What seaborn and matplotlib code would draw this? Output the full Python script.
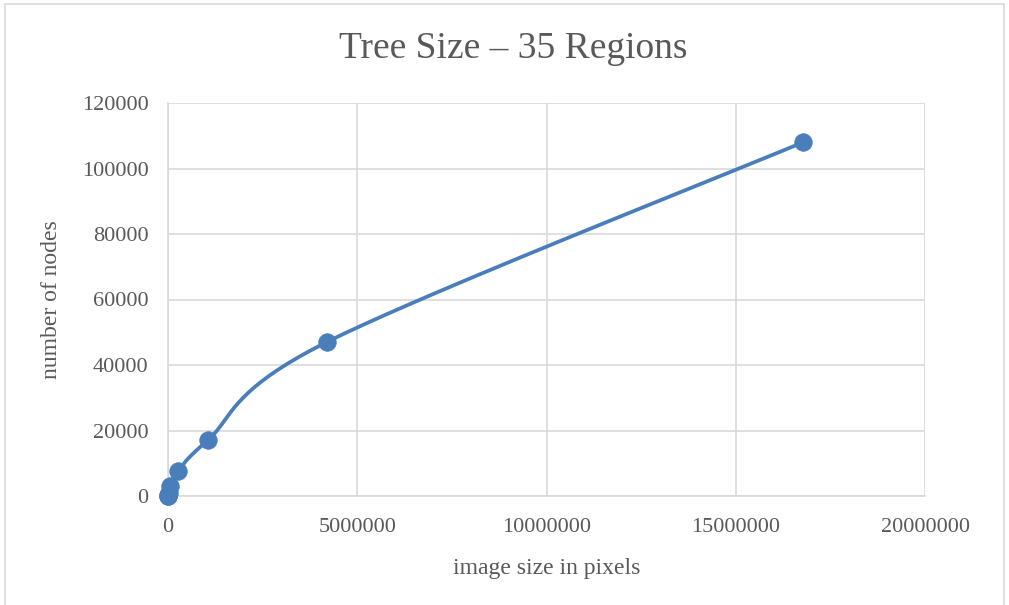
import numpy as np
import pandas as pd
import matplotlib
matplotlib.use("Agg")
import matplotlib.pyplot as plt
import seaborn as sns
from matplotlib.patches import Rectangle

image_pixels = [256, 1024, 4096, 16384, 65536, 262144, 1048576, 4194304, 16777216]
node_counts = [60, 120, 350, 1000, 3000, 7500, 17000, 47000, 108000]
x_ticks = [0, 5000000, 10000000, 15000000, 20000000]
y_ticks = [0, 20000, 40000, 60000, 80000, 100000, 120000]

color = "#4a7ebb"
grey_text = "#595959"
grid_c = "#d9d9d9"

sns.set_theme(style="white")
plt.rcParams['font.family'] = ['Liberation Serif', 'DejaVu Serif']

fig = plt.figure(figsize=(10.09, 6.05), dpi=100)
W, H = 1009, 605
ax = fig.add_axes([168 / W, 1 - 496 / H, (925 - 168) / W, (496 - 103) / H])

# smoothed line (Catmull-Rom in screen-normalised space)
xmax, ymax = x_ticks[-1], y_ticks[-1]
aw, ah = 925 - 168, 496 - 103
px = np.array(image_pixels, float) / xmax * aw
py = np.array(node_counts, float) / ymax * ah
P = np.column_stack([px, py])
pts = []
n = len(P)
for i in range(n - 1):
    p0 = P[i - 1] if i > 0 else P[i]
    p1, p2 = P[i], P[i + 1]
    p3 = P[i + 2] if i + 2 < n else P[i + 1]
    c1 = p1 + (p2 - p0) / 6
    c2 = p2 - (p3 - p1) / 6
    t = np.linspace(0, 1, 40)[:, None]
    seg = (1 - t) ** 3 * p1 + 3 * (1 - t) ** 2 * t * c1 + 3 * (1 - t) * t ** 2 * c2 + t ** 3 * p2
    pts.append(seg if i == 0 else seg[1:])
curve = np.vstack(pts)
line_df = pd.DataFrame({"x": curve[:, 0] / aw * xmax, "y": curve[:, 1] / ah * ymax})
pts_df = pd.DataFrame({"x": image_pixels, "y": node_counts})

sns.lineplot(data=line_df, x="x", y="y", sort=False, ax=ax, color=color, linewidth=2.7, zorder=3)
sns.scatterplot(data=pts_df, x="x", y="y", ax=ax, color=color, s=160, edgecolor=color,
                linewidth=0.5, zorder=4, clip_on=False)

ax.set_xlim(0, xmax)
ax.set_ylim(0, ymax)
ax.set_xticks(x_ticks)
ax.set_yticks(y_ticks)
ax.set_xticklabels([str(v) for v in x_ticks])
ax.set_yticklabels([str(v) for v in y_ticks])
ax.grid(True, color=grid_c, linewidth=1.2)
ax.set_axisbelow(True)
for s in ["top", "right"]:
    ax.spines[s].set_visible(False)
for s in ["left", "bottom"]:
    ax.spines[s].set_color(grid_c)
    ax.spines[s].set_linewidth(1.2)
ax.tick_params(axis="both", length=0, labelsize=16, colors=grey_text)
ax.tick_params(axis="y", pad=14)
ax.tick_params(axis="x", pad=16)
ax.set_xlabel("image size in pixels", fontsize=17, color=grey_text, labelpad=15)
ax.set_ylabel("number of nodes", fontsize=17, color=grey_text, labelpad=14)
fig.text(513 / W, 1 - 49 / H, "Tree Size \u2013 35 Regions", ha="center", va="center",
         fontsize=27, color=grey_text)

fig.add_artist(Rectangle((5 / W, -0.01), (1004 - 5) / W, 1 - 4 / H + 0.01, transform=fig.transFigure,
                         fill=False, edgecolor=grid_c, linewidth=1.2))

fig.savefig("out.png", dpi=100, facecolor="white")
